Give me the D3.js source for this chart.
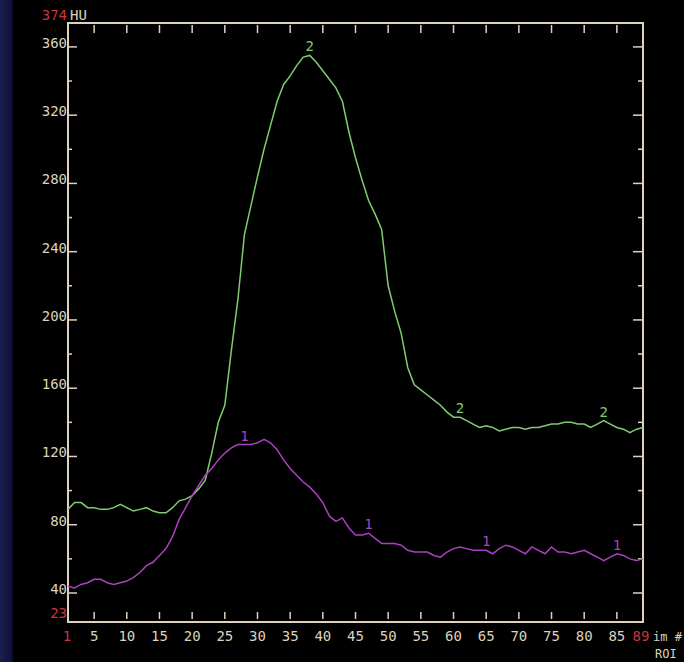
<!DOCTYPE html>
<html>
<head>
<meta charset="utf-8">
<script src="https://cdn.jsdelivr.net/npm/d3@7"></script>
<style>
  html, body { margin: 0; padding: 0; background: #000; }
  svg { display: block; }
  text { font-family: "DejaVu Sans Mono", monospace; font-size: 14px; }
</style>
</head>
<body>
<svg id="chart" width="684" height="662"></svg>
<script>
// frame numbers and ROI curves (HU)
const frames = d3.range(1, 90);
const roi1 = [44, 43, 45, 46, 48, 48, 46, 45, 46, 47, 49, 52, 56, 58, 62, 66, 73, 83, 90, 97,
  103, 109, 113, 118, 122, 125, 127, 127, 127, 128, 130, 128, 124, 118, 113, 109, 105, 102, 98, 93,
  85, 82, 84, 78, 74, 74, 75, 72, 69, 69, 69, 68, 65, 64, 64, 64, 62, 61, 64, 66,
  67, 66, 65, 65, 65, 63, 66, 68, 67, 65, 63, 67, 65, 63, 67, 64, 64, 63, 64, 65,
  63, 61, 59, 61, 63, 62, 60, 59, 60];
const roi2 = [89, 93, 93, 90, 90, 89, 89, 90, 92, 90, 88, 89, 90, 88, 87, 87, 90, 94, 95, 97,
  101, 106, 122, 140, 150, 182, 212, 250, 267, 284, 300, 314, 328, 338, 343, 349, 354, 355, 351, 346,
  341, 336, 328, 310, 295, 282, 270, 262, 253, 220, 205, 192, 172, 162, 159, 156, 153, 150, 146, 143,
  143, 141, 139, 137, 138, 137, 135, 136, 137, 137, 136, 137, 137, 138, 139, 139, 140, 140, 139, 139,
  137, 139, 141, 139, 137, 136, 134, 136, 137];
const label1At = [28, 47, 65, 85];
const label2At = [38, 61, 83];
const xTicks = d3.range(5, 90, 5);
const yMajor = d3.range(40, 361, 40);
const yMinor = d3.range(60, 341, 40);

const svg = d3.select("#chart");
const beige = "#ddd2bd", red = "#c8363a";
const green = "#80cc72", magenta = "#ad40bf";

// navy strip on the left edge
const grad = svg.append("defs").append("linearGradient").attr("id", "edge")
  .attr("x1", 0).attr("x2", 1).attr("y1", 0).attr("y2", 0);
grad.append("stop").attr("offset", "0%").attr("stop-color", "#1c1d52");
grad.append("stop").attr("offset", "80%").attr("stop-color", "#10113a");
grad.append("stop").attr("offset", "100%").attr("stop-color", "#000");
svg.append("rect").attr("x", 0).attr("y", 0).attr("width", 14).attr("height", 662).attr("fill", "url(#edge)");

const x = d3.scaleLinear().domain([1, 89]).range([68, 643]);
const y = d3.scaleLinear().domain([23, 374]).range([622, 23]);

// frame
svg.append("rect").attr("x", x(1)).attr("y", y(374)).attr("width", x(89) - x(1)).attr("height", y(23) - y(374))
  .attr("fill", "none").attr("stroke", beige).attr("stroke-width", 2);

// x ticks (top and bottom, floating a bit off the frame)
svg.selectAll(".xtb").data(xTicks).join("line")
  .attr("x1", d => x(d)).attr("x2", d => x(d)).attr("y1", y(23) - 3).attr("y2", y(23) - 10)
  .attr("stroke", beige).attr("stroke-width", 1.5);
svg.selectAll(".xtt").data(xTicks).join("line")
  .attr("x1", d => x(d)).attr("x2", d => x(d)).attr("y1", y(374) + 2).attr("y2", y(374) + 10)
  .attr("stroke", beige).attr("stroke-width", 1.5);

// y ticks left and right
svg.selectAll(".ylm").data(yMajor).join("line")
  .attr("x1", x(1)).attr("x2", x(1) + 9).attr("y1", d => y(d)).attr("y2", d => y(d))
  .attr("stroke", beige).attr("stroke-width", 1.5);
svg.selectAll(".yln").data(yMinor).join("line")
  .attr("x1", x(1)).attr("x2", x(1) + 4).attr("y1", d => y(d)).attr("y2", d => y(d))
  .attr("stroke", beige).attr("stroke-width", 1.5);
svg.selectAll(".yrm").data(yMajor).join("line")
  .attr("x1", x(89)).attr("x2", x(89) - 10).attr("y1", d => y(d)).attr("y2", d => y(d))
  .attr("stroke", beige).attr("stroke-width", 1.5);
svg.selectAll(".yrn").data(yMinor).join("line")
  .attr("x1", x(89)).attr("x2", x(89) - 5).attr("y1", d => y(d)).attr("y2", d => y(d))
  .attr("stroke", beige).attr("stroke-width", 1.5);

// tick labels: baseline sits on the tick
svg.selectAll(".yl").data(yMajor).join("text")
  .attr("x", x(1) - 1).attr("y", d => y(d) + 1).attr("text-anchor", "end")
  .attr("fill", beige).text(d => d);
svg.selectAll(".xl").data(xTicks).join("text")
  .attr("x", d => x(d)).attr("y", 641).attr("text-anchor", "middle")
  .attr("fill", beige).text(d => d);

svg.append("text").attr("x", x(1) - 1).attr("y", y(374) - 3).attr("text-anchor", "end").attr("fill", red).text("374");
svg.append("text").attr("x", x(1) + 2).attr("y", y(374) - 3).attr("fill", beige).text("HU");
svg.append("text").attr("x", x(1) - 1).attr("y", y(23) - 4).attr("text-anchor", "end").attr("fill", red).text("23");
svg.append("text").attr("x", x(1) - 1).attr("y", 641).attr("text-anchor", "middle").attr("fill", red).text("1");
svg.append("text").attr("x", x(89) - 2).attr("y", 641).attr("text-anchor", "middle").attr("fill", red).text("89");
svg.append("text").attr("x", 653).attr("y", 641).attr("fill", beige).style("font-size", "12px").text("im #");
svg.append("text").attr("x", 655).attr("y", 658).attr("fill", beige).style("font-size", "12px").text("ROI");

// curves
const line = d3.line().x((d, i) => x(frames[i])).y(d => y(d));
svg.append("path").datum(roi2).attr("d", line).attr("fill", "none")
  .attr("stroke", green).attr("stroke-width", 1.5);
svg.append("path").datum(roi1).attr("d", line).attr("fill", "none")
  .attr("stroke", magenta).attr("stroke-width", 1.5);

// curve numbers
svg.selectAll(".l1").data(label1At).join("text")
  .attr("x", d => x(d)).attr("y", d => y(roi1[d - 1]) - 4).attr("text-anchor", "middle")
  .attr("fill", magenta).text("1");
svg.selectAll(".l2").data(label2At).join("text")
  .attr("x", d => x(d)).attr("y", d => y(roi2[d - 1]) - 4).attr("text-anchor", "middle")
  .attr("fill", green).text("2");
</script>
</body>
</html>
